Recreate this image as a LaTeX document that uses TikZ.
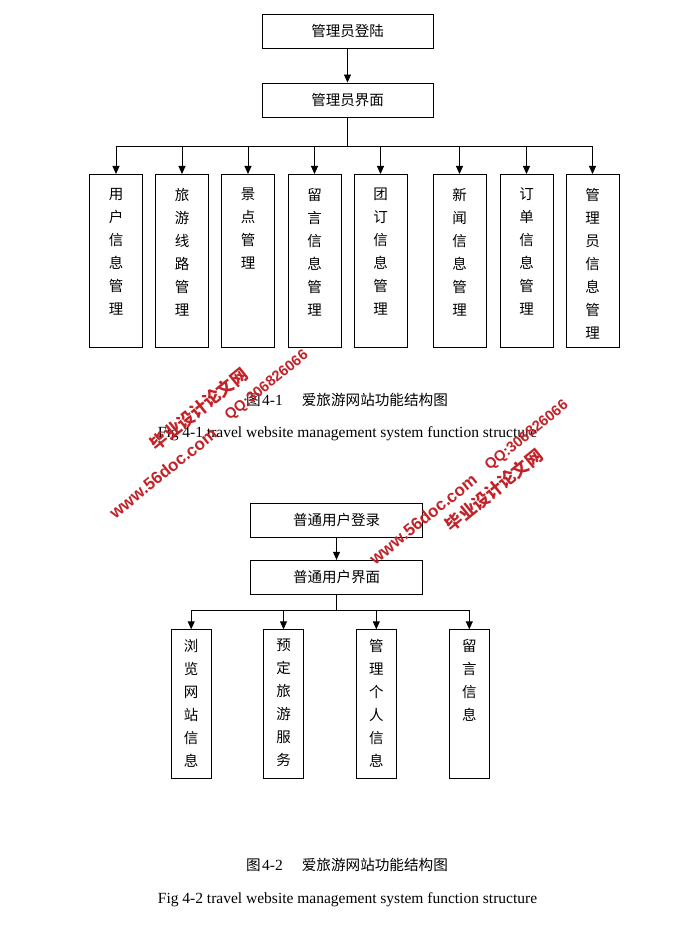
\documentclass[tikz,border=0pt]{standalone}
\usepackage{fontspec}
\setmainfont{Liberation Serif}
\newfontfamily\cjk{Noto Sans CJK SC}
\newfontfamily\wmsans{Liberation Sans}
\usepackage{tikz}
\usetikzlibrary{positioning, arrows.meta}
\usepackage{color}
\definecolor{wmred}{RGB}{195,35,40}

\tikzset{
    box/.style = {draw, line width=0.9pt, inner sep=0pt, minimum width=171pt, minimum height=34pt,
        font=\cjk\fontsize{14.5}{17}\selectfont},
    col/.style = {draw, line width=0.9pt, inner sep=0pt, anchor=north,
        font=\cjk\fontsize{14.5}{23}\selectfont},
    arr/.style = {line width=0.9pt, -{Triangle[length=8pt,width=7pt]}},
    captxt/.style = {inner sep=0pt, font=\fontsize{15.5}{17}\selectfont},
    wm/.style = {inner sep=0pt, rotate=39, text=wmred, font=\bfseries}
}
% column labels, top aligned
\newcommand{\bigcol}[1]{\parbox[c][173pt][t]{53pt}{\centering\vspace*{13.5pt}#1}}
\newcommand{\smallcol}[1]{\parbox[c][149pt][t]{40pt}{\centering\vspace*{9.5pt}#1}}
\newcommand{\capcn}[1]{{\cjk\fontsize{14.6}{17}\selectfont #1}}

\begin{document}
\begin{tikzpicture}[x=1pt, y=-1pt]
    \fill[white] (0,0) rectangle (700,928);
    \useasboundingbox (0,0) rectangle (700,928);

    % figure 4-1
    \node[box] (adminlogin) at (347.5,31) {管理员登陆};
    \node[box] (adminui) at (347.5,100) {管理员界面};
    \draw[arr] (adminlogin) -- (adminui);
    \node[col] (a1) at (116,174) {\bigcol{用\\户\\信\\息\\管\\理}};
    \node[col] (a2) at (182,174) {\bigcol{旅\\游\\线\\路\\管\\理}};
    \node[col] (a3) at (248,174) {\bigcol{景\\点\\管\\理}};
    \node[col] (a4) at (314.5,174) {\bigcol{留\\言\\信\\息\\管\\理}};
    \node[col] (a5) at (380.5,174) {\bigcol{团\\订\\信\\息\\管\\理}};
    \node[col] (a6) at (459.5,174) {\bigcol{新\\闻\\信\\息\\管\\理}};
    \node[col] (a7) at (526.5,174) {\bigcol{订\\单\\信\\息\\管\\理}};
    \node[col] (a8) at (592.5,174) {\bigcol{管\\理\\员\\信\\息\\管\\理}};
    \coordinate (abus) at (347.5,146.5);
    \draw[line width=0.9pt] (adminui) -- (abus);
    \foreach \i in {1,...,8}
        \draw[arr] (abus) -| (a\i);
    \node[captxt] (cap1) at (347,400) {\capcn{图}\kern1.5pt 4-1\hspace{19pt}\capcn{爱旅游网站功能结构图}};
    \node[captxt] (cap1en) at (347.5,434) {Fig 4-1 travel website management system function structure};

    % figure 4-2
    \node[box, minimum width=171.5pt] (userlogin) at (336.5,520.3) {普通用户登录};
    \node[box, minimum width=171.5pt] (userui) at (336.5,577.3) {普通用户界面};
    \draw[arr] (userlogin) -- (userui);
    \node[col] (u1) at (191.2,629.3) {\smallcol{浏\\览\\网\\站\\信\\息}};
    \node[col] (u2) at (283.5,629.3) {\smallcol{预\\定\\旅\\游\\服\\务}};
    \node[col] (u3) at (376.3,629.3) {\smallcol{管\\理\\个\\人\\信\\息}};
    \node[col] (u4) at (469.3,629.3) {\smallcol{留\\言\\信\\息}};
    \coordinate (ubus) at (336.5,610.7);
    \draw[line width=0.9pt] (userui) -- (ubus);
    \foreach \i in {1,...,4}
        \draw[arr] (ubus) -| (u\i);
    \node[captxt] (cap2) at (347,865) {\capcn{图}\kern1.5pt 4-2\hspace{19pt}\capcn{爱旅游网站功能结构图}};
    \node[captxt] (cap2en) at (347.5,900) {Fig 4-2 travel website management system function structure};

    % watermarks
    \node[wm, font=\wmsans\bfseries\fontsize{17}{17}\selectfont] (wmwebl) at (163,473) {www.56doc.com};
    \node[wm, font=\cjk\bfseries\fontsize{17}{17}\selectfont] (wmnamel) at (199,409) {毕业设计论文网};
    \node[wm, font=\wmsans\bfseries\fontsize{14.8}{15}\selectfont] (wmqql) at (267,386) {QQ:306826066};
    \node[wm, font=\wmsans\bfseries\fontsize{17}{17}\selectfont] (wmwebr) at (423,519) {www.56doc.com};
    \node[wm, font=\cjk\bfseries\fontsize{17}{17}\selectfont] (wmnamer) at (494,490) {毕业设计论文网};
    \node[wm, font=\wmsans\bfseries\fontsize{14.8}{15}\selectfont] (wmqqr) at (527,436) {QQ:306826066};
\end{tikzpicture}
\end{document}
